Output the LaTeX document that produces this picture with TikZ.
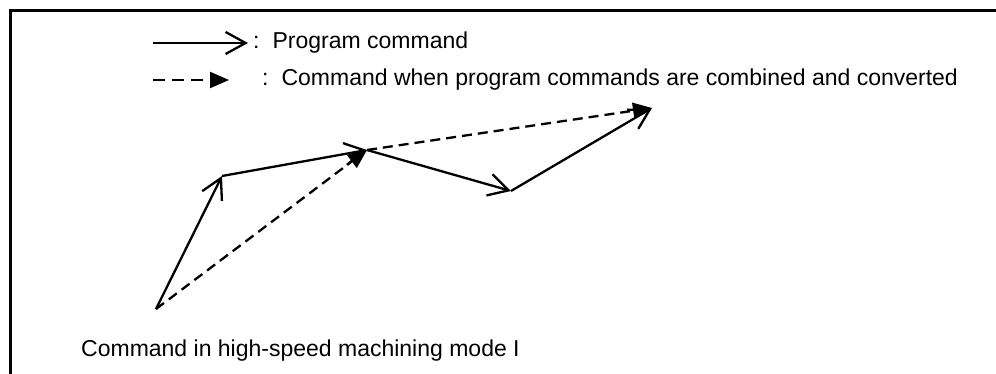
\documentclass[tikz,border=0pt]{standalone}
\usepackage{fontspec}
\setmainfont{Liberation Sans}
\usetikzlibrary{arrows.meta,positioning}
\tikzset{
  progarrow/.style={line width=2.3pt, -{Straight Barb[length=20pt,width=22pt]}},
  convarrow/.style={line width=2.3pt, dash pattern=on 10pt off 6pt, -{Triangle[length=19pt,width=16pt]}},
  legtext/.style={anchor=west, inner sep=0pt, font=\fontsize{23}{27}\selectfont}
}

\begin{document}
\begin{tikzpicture}[x=1pt, y=-1pt]
  \useasboundingbox (0,0) rectangle (996,374);
  % frame (open on the right and at the bottom)
  \draw[line width=3pt] (10,380) -- (10,11) -- (1000,11);

  % legend
  \coordinate (solidA) at (153,43);
  \coordinate (solidB) at (248,43);
  \coordinate (dashA) at (153,80);
  \coordinate (dashB) at (229,80);
  \draw[progarrow] (solidA) -- (solidB);
  \draw[convarrow, dash pattern=on 12pt off 7pt] (dashA) -- (dashB);
  \node[legtext] (progtxt) at (253,43) {:\hspace{13pt}Program command};
  \node[legtext] (convtxt) at (262,80) {:\hspace{13pt}Command when program commands are combined and converted};

  % tool path points
  \coordinate (p0) at (156,309);
  \coordinate (p1) at (222,176);
  \coordinate (p2) at (367,150);
  \coordinate (p3) at (511,191);
  \coordinate (p4) at (652,108);

  \draw[progarrow] (p0) -- (p1);
  \draw[progarrow] (p1) -- (p2);
  \draw[progarrow] (p2) -- (p3);
  \draw[progarrow] (p3) -- (p4);
  \draw[convarrow] (p0) -- (p2);
  \draw[convarrow] (p2) -- (p4);

  \node[legtext] (modetxt) at (81,351) {Command in high-speed machining mode I};
\end{tikzpicture}
\end{document}
